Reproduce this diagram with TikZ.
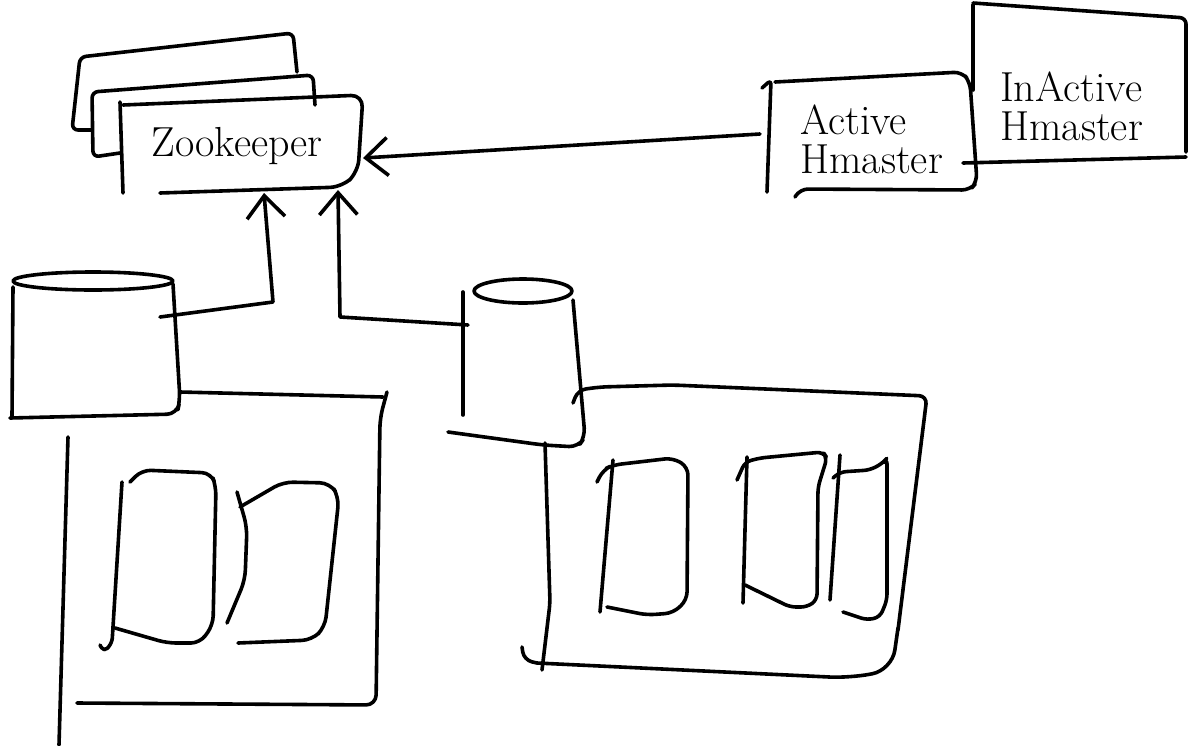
\documentclass[tikz,border=0pt]{standalone}
\usetikzlibrary{arrows.meta}
\begin{document}
\begin{tikzpicture}[x=1pt,y=-1pt,
  pen/.style={line width=3.6pt, line cap=round, line join=round, rounded corners=6pt},
  zkarrow/.style={pen, -{Straight Barb[length=22pt,width=38pt]}},
  hand/.style={font=\fontsize{42}{40}\selectfont, align=left, inner sep=0pt}]
\useasboundingbox (0,0) rectangle (1189,745);
\fill[white] (0,0) rectangle (1189,745);

% ---------- Zookeeper stack ----------
\draw[pen] (92,130) -- (72,130) -- (80,57) -- (293,33) -- (297,72);
\draw[pen] (120,153) -- (93,157) -- (92,92) -- (313,75) -- (315,105);
\draw[pen] (120,102) -- (123,193);
\draw[pen, rounded corners=12pt] (123,105) -- (363,95) -- (358,172) -- (342,187) -- (160,193);
\node[hand, anchor=center] (zk) at (237,146) {Zookeeper};

% ---------- Active / InActive Hmaster ----------
\draw[pen, rounded corners=4pt] (762,88) -- (771,80) -- (767,192);
\draw[pen, rounded corners=8pt] (775,82) -- (962,72) -- (970,82) -- (977,182) -- (970,190) -- (800,189) -- (795,197);
\node[hand, anchor=west] (am) at (800,139) {Active\\[-1pt]Hmaster};
\draw[pen] (973,5) -- (973,90);
\draw[pen] (973,3) -- (1186,18) -- (1186,152);
\draw[pen] (963,163) -- (1186,157);
\node[hand, anchor=west] (im) at (1000,106) {InActive\\[-1pt]Hmaster};

% ---------- connectors into Zookeeper ----------
\coordinate (zkR) at (363,158);
\coordinate (zkB1) at (264,193);
\coordinate (zkB2) at (338,190);
\coordinate (amL) at (760,134);
\coordinate (c1hook) at (160,317);
\coordinate (c1bend) at (273,302);
\coordinate (c2hook) at (468,325);
\coordinate (c2bend) at (340,317);
\draw[zkarrow] (amL) -- (zkR);
\draw[zkarrow, rounded corners=0pt] (c1hook) -- (c1bend) -- (zkB1);
\draw[zkarrow, rounded corners=0pt] (c2hook) -- (c2bend) -- (zkB2);

% ---------- left cylinder ----------
\draw[pen] (93,281) ellipse [x radius=80, y radius=9];
\draw[pen] (13,287) -- (12,417);
\draw[pen, rounded corners=10pt] (173,284) -- (180,400) -- (177,414) -- (10,418);

% ---------- left region box ----------
\draw[pen] (180,392) -- (383,397);
\draw[pen, rounded corners=10pt] (387,392) -- (380,418) -- (376,705) -- (77,703);
\draw[pen] (68,437) -- (59,745);
% inner boxes
\draw[pen, rounded corners=5pt] (122,482) -- (112,643) -- (104,652) -- (100,645);
\draw[pen, rounded corners=9pt] (130,482) -- (142,470) -- (211,473) -- (216,486) -- (213,625) -- (200,643) -- (167,643) -- (115,628);
\draw[pen, rounded corners=10pt] (237,492) -- (247,527) -- (245,580) -- (227,623);
\draw[pen, rounded corners=10pt] (240,507) -- (283,482) -- (330,483) -- (339,497) -- (325,627) -- (312,640) -- (238,643);

% ---------- right cylinder ----------
\draw[pen] (523,291) ellipse [x radius=49, y radius=12];
\draw[pen] (463,292) -- (463,415);
\draw[pen, rounded corners=9pt] (573,300) -- (585,437) -- (578,447) -- (543,445) -- (448,432);

% ---------- right region box ----------
\draw[pen, rounded corners=8pt] (573,403) -- (578,390) -- (600,387) -- (673,385) -- (927,396) -- (898,630);
\draw[pen, rounded corners=20pt] (898,628) -- (892,670) -- (850,678) -- (537,663);
\draw[pen, rounded corners=8pt] (537,663) -- (524,660) -- (522,647);
\draw[pen] (545,443) -- (550,603) -- (542,670);
% inner boxes
\draw[pen] (613,460) -- (600,612);
\draw[pen, rounded corners=8pt] (597,482) -- (603,470) -- (613,465) -- (673,458) -- (688,467) -- (687,600) -- (673,613) -- (647,615) -- (607,607);
\draw[pen] (747,457) -- (743,603);
\draw[pen, rounded corners=6pt] (737,480) -- (745,462) -- (760,458) -- (823,452) -- (827,458) -- (818,487) -- (817,600) -- (807,607) -- (790,607) -- (745,585);
\draw[pen] (840,455) -- (830,600);
\draw[pen, rounded corners=6pt] (833,478) -- (840,472) -- (870,470) -- (883,463) -- (887,458) -- (887,600) -- (880,617) -- (867,620) -- (843,612);
\end{tikzpicture}
\end{document}
